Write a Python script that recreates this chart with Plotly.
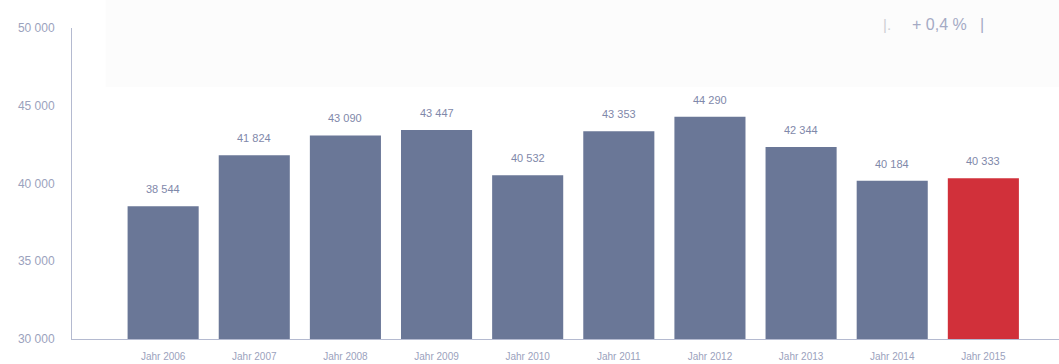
import plotly.graph_objects as go

years = ["Jahr 2006", "Jahr 2007", "Jahr 2008", "Jahr 2009", "Jahr 2010",
         "Jahr 2011", "Jahr 2012", "Jahr 2013", "Jahr 2014", "Jahr 2015"]
values = [38544, 41824, 43090, 43447, 40532, 43353, 44290, 42344, 40184, 40333]
labels = ["38 544", "41 824", "43 090", "43 447", "40 532",
          "43 353", "44 290", "42 344", "40 184", "40 333"]
y_ticks = [30000, 35000, 40000, 45000, 50000]
y_tick_text = ["30 000", "35 000", "40 000", "45 000", "50 000"]

colors = ["#6a7797"] * 9 + ["#d1303a"]
font_family = "Liberation Sans, Arial"

fig = go.Figure()
fig.add_trace(go.Bar(
    x=list(range(len(years))), y=values,
    marker=dict(color=colors, line=dict(width=0)),
    hoverinfo="skip",
))

for i, (v, t) in enumerate(zip(values, labels)):
    fig.add_annotation(x=i, y=v, text=t, showarrow=False, yanchor="bottom", yshift=9,
                       font=dict(family=font_family, size=11, color="#7f88aa"))

fig.add_shape(type="rect", xref="paper", yref="paper", x0=0.034, x1=1.0, y0=0.81, y1=1.1,
              fillcolor="#fcfcfc", line=dict(width=0), layer="below")

fig.add_annotation(xref="paper", yref="paper", x=0.82, y=1.045, text="|.",
                   showarrow=False, font=dict(family=font_family, size=15, color="#cfcfd4"),
                   xanchor="left")
fig.add_annotation(xref="paper", yref="paper", x=0.849, y=1.045, text="+ 0,4 %   |",
                   showarrow=False, font=dict(family=font_family, size=16, color="#a4aac4"),
                   xanchor="left")

fig.update_layout(
    width=1059, height=364,
    margin=dict(l=72, r=0, t=28, b=25),
    plot_bgcolor="white", paper_bgcolor="white",
    bargap=0.22, showlegend=False,
    xaxis=dict(
        range=[-1.0, 9.83], tickmode="array", tickvals=list(range(len(years))), ticktext=years,
        showgrid=False, zeroline=False, showline=True, linecolor="#b4bad0", linewidth=1,
        tickfont=dict(family=font_family, size=10, color="#9ba2bd"),
        ticks="", ticklabelstandoff=8, fixedrange=True,
    ),
    yaxis=dict(
        range=[30000, 50000], tickmode="array", tickvals=y_ticks, ticktext=y_tick_text,
        showgrid=False, zeroline=False, showline=True, linecolor="#b4bad0", linewidth=1,
        tickfont=dict(family=font_family, size=12, color="#9ba2bd"),
        ticks="", ticklabelstandoff=14,
    ),
)

fig.write_html("out.html")
